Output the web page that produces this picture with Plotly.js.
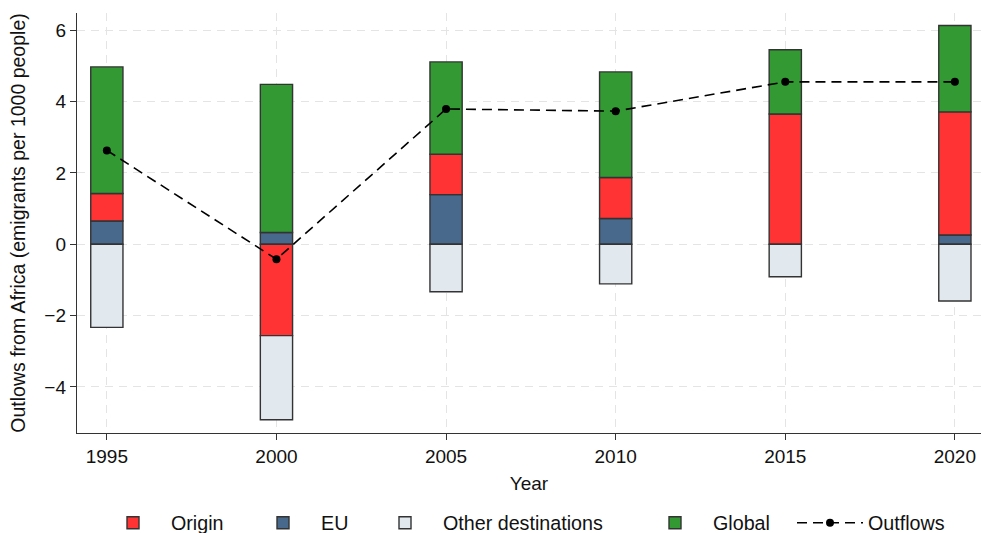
<!DOCTYPE html>
<html>
<head>
<meta charset="utf-8">
<script src="https://cdn.plot.ly/plotly-3.0.1.min.js"></script>
<style>html,body{margin:0;padding:0;background:#fff;}#chart{width:982px;height:533px;}</style>
</head>
<body>
<div id="chart"></div>
<script>
const years = [1995, 2000, 2005, 2010, 2015, 2020];
const origin = [0.77, -2.56, 1.13, 1.15, 3.65, 3.45];
const eu = [0.65, 0.33, 1.39, 0.72, 0.0, 0.26];
const other = [-2.33, -2.36, -1.33, -1.11, -0.91, -1.59];
const global = [3.55, 4.15, 2.59, 2.96, 1.80, 2.42];
const outflows = [2.63, -0.42, 3.79, 3.73, 4.55, 4.55];

const outline = {color: '#333333', width: 1.4};
const bw = 0.95;
const traces = [
  {type: 'bar', name: 'EU', x: years, y: eu, width: bw, legend: 'legend2',
   marker: {color: '#48698b', line: outline}},
  {type: 'bar', name: 'Origin', x: years, y: origin, width: bw, legend: 'legend',
   marker: {color: '#ff3333', line: outline}},
  {type: 'bar', name: 'Other destinations', x: years, y: other, width: bw, legend: 'legend3',
   marker: {color: '#e1e9ef', line: outline}},
  {type: 'bar', name: 'Global', x: years, y: global, width: bw, legend: 'legend4',
   marker: {color: '#339933', line: outline}},
  {type: 'scatter', mode: 'lines+markers', name: 'Outflows', x: years, y: outflows, legend: 'legend5',
   line: {color: '#000000', width: 1.6, dash: '10px,6px'},
   marker: {color: '#000000', size: 8}}
];

function leg(px) {
  return {
    orientation: 'h', xref: 'container', yref: 'container',
    x: px / 982, xanchor: 'left', y: 10 / 533, yanchor: 'middle',
    font: {size: 19.7, color: '#111111'}, itemwidth: 66, bgcolor: 'rgba(0,0,0,0)'
  };
}

const layout = {
  width: 982, height: 533,
  margin: {l: 77, r: 1, t: 13, b: 100, autoexpand: false},
  barmode: 'relative',
  paper_bgcolor: '#ffffff', plot_bgcolor: '#ffffff',
  font: {family: 'Liberation Sans, Arial, sans-serif', size: 19, color: '#111111'},
  xaxis: {
    range: [1994.12, 2020.77],
    tickvals: years, ticktext: years.map(String),
    showgrid: true, gridcolor: '#e4e4e4', griddash: '8px,6px', gridwidth: 1,
    zeroline: false, showline: true, linecolor: '#333333', linewidth: 1.2,
    ticks: 'outside', ticklen: 6, tickcolor: '#333333',
    tickfont: {size: 19},
    title: {text: 'Year', font: {size: 19}, standoff: 10}
  },
  yaxis: {
    range: [-5.29, 6.48],
    tickvals: [-4, -2, 0, 2, 4, 6],
    showgrid: true, gridcolor: '#e4e4e4', griddash: '8px,6px', gridwidth: 1,
    zeroline: false, showline: true, linecolor: '#333333', linewidth: 1.2,
    ticks: 'outside', ticklen: 6, tickcolor: '#333333',
    tickfont: {size: 19},
    title: {text: 'Outlows from Africa (emigrants per 1000 people)', font: {size: 19.5}, standoff: 13}
  },
  legend: leg(95),
  legend2: leg(245),
  legend3: leg(367),
  legend4: leg(637),
  legend5: leg(792),
  showlegend: true
};

Plotly.newPlot('chart', traces, layout, {displayModeBar: false, staticPlot: true});
</script>
</body>
</html>
